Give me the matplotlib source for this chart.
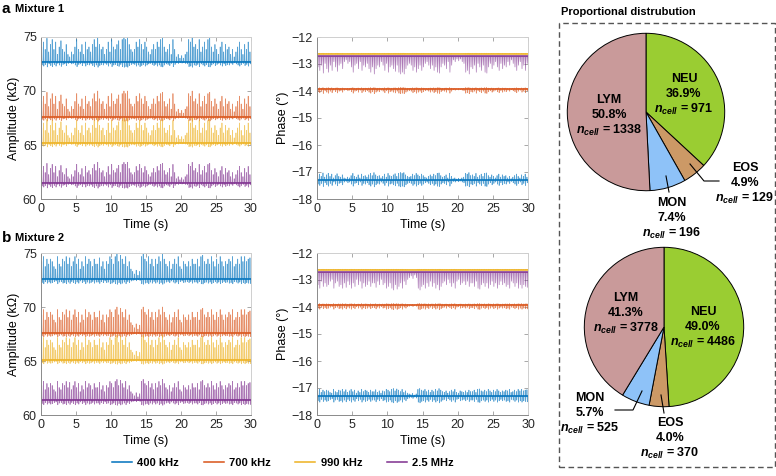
import numpy as np
import matplotlib
matplotlib.use("Agg")
import matplotlib.pyplot as plt
from matplotlib.patches import Rectangle
from matplotlib.lines import Line2D

plt.rcParams['font.family'] = ['Liberation Sans', 'DejaVu Sans']
plt.rcParams['mathtext.fontset'] = 'custom'
plt.rcParams['mathtext.rm'] = 'Liberation Sans'
plt.rcParams['mathtext.it'] = 'Liberation Sans:italic'
plt.rcParams['mathtext.bf'] = 'Liberation Sans:bold'
plt.rcParams['mathtext.bfit'] = 'Liberation Sans:italic:bold'

# ---- data ----
freqs = ['400 kHz', '700 kHz', '990 kHz', '2.5 MHz']
colors = ['#0072BD', '#D95319', '#EDB120', '#7E2F8E']

# cell events, one every 0.25 s, relative height (0..1)
event_times = np.arange(0.1, 30, 0.25)
events_mix1 = [
    0.6, 0.8, 0.5, 0.95, 0.4, 0.7, 0.9, 0.5, 0.8, 0.3, 0.6, 0.85,
    0.5, 0.4, 0.7, 0.3, 0.2, 0.4, 0.3, 0.6, 0.9, 0.5, 0.4, 0.7,
    0.3, 0.8, 0.5, 0.6, 0.4, 0.7, 0.9, 0.6, 1.0, 0.7, 0.5, 0.6,
    0.3, 0.5, 0.8, 0.4, 0.9, 0.6, 0.5, 0.7, 0.85, 0.5, 0.9, 1.0,
    0.9, 1.0, 0.7, 0.5, 0.4, 0.5, 0.8, 0.6, 0.9, 0.7, 0.5, 0.8,
    0.6, 0.4, 0.3, 0.5, 0.7, 0.5, 0.8, 0.6, 0.9, 0.95, 0.6, 0.4,
    0.5, 0.7, 0.3, 0.9, 0.5, 0.2, 0.3, 0.15, 0.25, 0.15, 0.3, 0.4,
    0.9, 0.8, 1.0, 0.6, 0.7, 0.5, 0.9, 0.4, 0.6, 0.8, 0.5, 0.9,
    0.95, 0.6, 0.4, 0.7, 0.5, 0.3, 0.6, 0.8, 0.4, 0.7, 0.5, 0.6,
    0.3, 0.5, 0.2, 0.4, 0.6, 0.8, 0.5, 0.3, 0.7, 0.5, 0.8, 0.4]
events_mix2 = [
    0.7, 0.9, 0.5, 0.8, 0.6, 0.8, 0.7, 0.5, 0.4, 0.9, 0.6, 0.5,
    0.8, 0.7, 0.9, 0.6, 0.85, 0.5, 0.7, 0.9, 0.6, 0.8, 0.4, 0.7,
    0.5, 0.9, 0.6, 0.8, 0.7, 0.5, 0.8, 0.6, 0.6, 0.85, 0.5, 0.7,
    0.4, 0.7, 0.6, 0.9, 0.8, 0.6, 0.9, 1.0, 0.7, 0.95, 0.8, 0.6,
    0.9, 0.5, 0.7, 0.4, 0.3, 0.2, 0.35, 0.15, 0.3, 0.9, 1.0, 0.8,
    0.7, 0.9, 0.6, 0.8, 0.5, 0.8, 0.6, 0.9, 0.7, 1.0, 0.8, 0.6,
    0.5, 0.7, 0.4, 0.6, 0.8, 0.6, 0.9, 0.5, 0.4, 0.7, 0.6, 0.5,
    0.7, 0.5, 0.8, 0.6, 0.6, 0.8, 0.5, 0.9, 0.95, 0.7, 0.6, 0.8,
    0.6, 0.9, 0.7, 0.5, 0.8, 0.6, 0.9, 0.7, 0.5, 0.7, 0.6, 0.8,
    0.7, 0.9, 0.5, 0.6, 0.8, 0.6, 0.9, 0.7, 0.9, 0.7, 0.8, 0.85]

# baselines and spike sizes per frequency (kOhm / degrees)
amp_base_mix1 = [72.7, 67.6, 65.2, 61.5]
amp_base_mix2 = [72.6, 67.6, 65.1, 61.4]
amp_peak = [2.3, 2.4, 2.3, 1.9]
amp_dip = [0.5, 0.4, 0.4, 0.5]
phase_base = [-17.30, -13.92, -12.62, -12.72]
phase_peak = [0.28, 0.05, 0.02, 0.0]
phase_dip = [0.25, 0.18, 0.02, 0.65]

cell_types = ['NEU', 'EOS', 'MON', 'LYM']
pie_colors = ['#9ACD32', '#CC9966', '#8EC2F8', '#C99A9A']
pct_mix1 = [36.9, 4.9, 7.4, 50.8]
ncell_mix1 = [971, 129, 196, 1338]
pct_mix2 = [49.0, 4.0, 5.7, 41.3]
ncell_mix2 = [4486, 370, 525, 3778]

W, H = 776, 476
fig = plt.figure(figsize=(W / 100, H / 100), dpi=100)


def px_axes(x0, y0, x1, y1):
    return fig.add_axes([x0 / W, 1 - y1 / H, (x1 - x0) / W, (y1 - y0) / H])


def trace(base, peak, dip, heights):
    xs, ys = [0.0], [base]
    for t, h in zip(event_times, heights):
        xs += [t - 0.03, t, t + 0.05, t + 0.1]
        ys += [base, base + peak * h, base - dip * h, base]
    xs.append(30.0)
    ys.append(base)
    return xs, ys


def style(ax):
    ax.set_xlim(0, 30)
    ax.set_xticks(range(0, 31, 5))
    ax.tick_params(direction='in', top=True, right=True, length=3,
                   width=0.6, labelsize=9, colors='#9a9a9a',
                   labelcolor='#262626', pad=3)
    for s in ['left', 'bottom']:
        ax.spines[s].set_color('#8a8a8a')
    for s in ['top', 'right']:
        ax.spines[s].set_color('#cfcfcf')
    for s in ax.spines.values():
        s.set_linewidth(0.7)
    ax.set_xlabel('Time (s)', fontsize=9, labelpad=3)


handles = []
for row, (events, bases, y0, y1) in enumerate([
        (events_mix1, amp_base_mix1, 37, 199),
        (events_mix2, amp_base_mix2, 253, 415)]):
    ax = px_axes(41, y0, 251, y1)
    for i in range(4):
        xs, ys = trace(bases[i], amp_peak[i], amp_dip[i], events)
        ax.plot(xs, ys, color=colors[i], lw=0.5, alpha=0.65)
        h, = ax.plot([0, 30], [bases[i], bases[i]], color=colors[i], lw=1.1)
        if row == 0:
            handles.append(h)
    ax.set_ylim(60, 75)
    ax.set_yticks([60, 65, 70, 75])
    ax.set_ylabel('Amplitude (k\u03a9)', fontsize=9, labelpad=2)
    style(ax)

    axp = px_axes(317, y0, 528, y1)
    for i in range(4):
        xs, ys = trace(phase_base[i], phase_peak[i], phase_dip[i], events)
        axp.plot(xs, ys, color=colors[i], lw=0.5, alpha=0.65)
        axp.plot([0, 30], [phase_base[i], phase_base[i]], color=colors[i], lw=1.1)
    axp.set_ylim(-18, -12)
    axp.set_yticks(range(-18, -11))
    axp.set_ylabel('Phase (\u00b0)', fontsize=9, labelpad=2)
    style(axp)

fig.text(2 / W, 1 - 9 / H, 'a', fontsize=11, fontweight='bold', va='center')
fig.text(15 / W, 1 - 9 / H, 'Mixture 1', fontsize=8, fontweight='bold', va='center')
fig.text(2 / W, 1 - 238 / H, 'b', fontsize=11, fontweight='bold', va='center')
fig.text(15 / W, 1 - 238 / H, 'Mixture 2', fontsize=8, fontweight='bold', va='center')

fig.legend(handles, freqs, loc='center', bbox_to_anchor=(283 / W, 1 - 463 / H),
           ncol=4, frameon=False, handlelength=1.8, handletextpad=0.5,
           columnspacing=2.2, prop={'weight': 'bold', 'size': 8})

# ---- pies ----
fig.add_artist(Rectangle((559 / W, 1 - 467 / H), 216 / W, 444 / H,
                         transform=fig.transFigure, fill=False,
                         edgecolor='#555555', lw=1.0, ls=(0, (4, 2.5))))
fig.text(561 / W, 1 - 12 / H, 'Proportional distrubution', fontsize=8,
         fontweight='bold', va='center')

for (cx, cy, r), pct in [((646, 112, 79.5), pct_mix1), ((664, 327, 80.5), pct_mix2)]:
    axpie = px_axes(cx - r, cy - r, cx + r, cy + r)
    axpie.pie(pct, colors=pie_colors, startangle=90, counterclock=False,
              wedgeprops=dict(edgecolor='black', linewidth=0.7))
    axpie.set_xlim(-1.01, 1.01)
    axpie.set_ylim(-1.01, 1.01)
    axpie.set_aspect('equal')
    axpie.axis('off')


def pie_label(x, y, name, pct, n):
    kw = dict(fontsize=9, fontweight='bold', ha='center', va='center')
    fig.text(x / W, 1 - y / H, name, **kw)
    fig.text(x / W, 1 - (y + 15) / H, f'{pct:.1f}%', **kw)
    fig.text(x / W, 1 - (y + 30) / H, r'$\mathbfit{n}_{\mathbfit{cell}}$' + f' = {n}', **kw)


def leader(pts):
    xs = [p[0] / W for p in pts]
    ys = [1 - p[1] / H for p in pts]
    fig.add_artist(Line2D(xs, ys, transform=fig.transFigure, color='black', lw=0.8))


labels_mix1 = [(684, 79), (745, 168), (672, 203), (609, 100)]
for (x, y), name, p, n in zip(labels_mix1, cell_types, pct_mix1, ncell_mix1):
    pie_label(x, y, name, p, n)
leader([(690, 164), (704, 181), (719, 181)])
leader([(666, 176), (669, 192)])

labels_mix2 = [(703, 312), (670, 423), (590, 398), (626, 298)]
for (x, y), name, p, n in zip(labels_mix2, cell_types, pct_mix2, ncell_mix2):
    pie_label(x, y, name, p, n)
leader([(642, 391), (633, 410), (615, 410)])
leader([(661, 395), (664, 413)])

fig.savefig('out.png', dpi=100)
